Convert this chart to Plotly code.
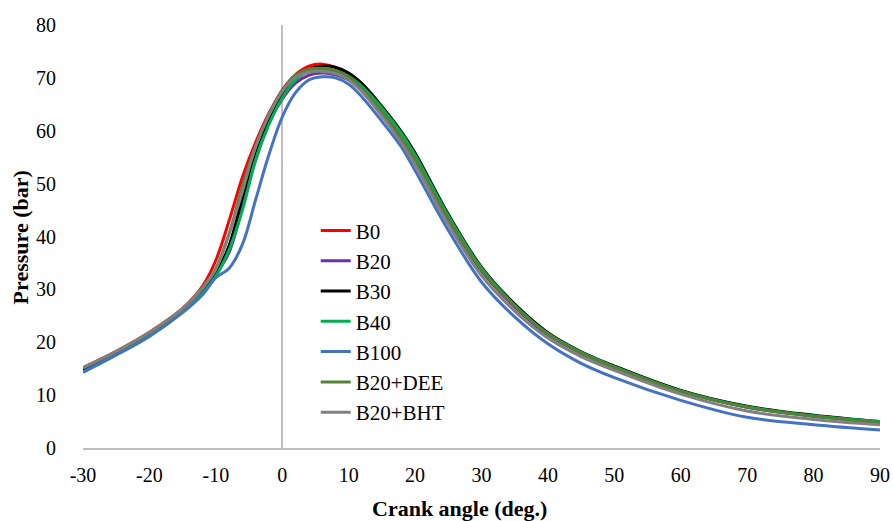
import plotly.graph_objects as go

crank_angle = [-30, -25, -20, -15, -12, -10, -8, -6, -4, -2, 0, 2, 4, 6, 8, 10, 12, 15, 18, 20, 25, 30, 35, 40, 45, 50, 60, 70, 80, 90]

b0 = [15.2, 18.3, 21.9, 26.4, 30.6, 35.5, 43.0, 51.2, 57.8, 63.3, 67.7, 70.6, 72.2, 72.6, 72.0, 70.5, 68.0, 63.4, 58.3, 54.5, 43.3, 33.6, 26.8, 21.6, 18.0, 15.3, 10.8, 7.8, 6.1, 4.9]
b20 = [14.6, 17.8, 21.4, 26.0, 29.5, 32.8, 37.0, 45.5, 54.5, 61.5, 66.0, 69.0, 70.5, 70.9, 70.6, 69.6, 67.6, 63.4, 58.5, 54.6, 43.2, 33.5, 26.7, 21.4, 17.9, 15.2, 10.7, 7.7, 6.0, 4.9]
b30 = [14.7, 17.9, 21.5, 26.1, 29.7, 33.0, 38.3, 47.3, 56.3, 62.5, 67.0, 70.0, 71.6, 72.2, 72.0, 70.9, 68.9, 64.6, 59.7, 55.8, 44.2, 34.2, 27.2, 21.8, 18.2, 15.5, 10.9, 7.9, 6.2, 5.0]
b40 = [14.3, 17.6, 21.2, 25.8, 29.3, 32.5, 37.5, 45.0, 54.5, 61.2, 66.2, 69.6, 71.3, 71.6, 71.3, 70.3, 68.4, 64.3, 59.4, 55.4, 43.9, 34.0, 27.0, 21.6, 18.1, 15.4, 10.8, 7.8, 6.1, 5.0]
b100 = [14.4, 17.6, 21.1, 25.6, 29.0, 32.2, 34.0, 38.5, 47.0, 55.5, 62.6, 67.2, 69.6, 70.2, 70.0, 68.8, 66.4, 61.8, 56.8, 52.5, 41.2, 31.4, 24.8, 19.7, 16.0, 13.3, 9.0, 5.8, 4.4, 3.4]
b20_dee = [15.1, 18.2, 21.8, 26.3, 30.2, 34.0, 40.5, 49.5, 57.0, 63.0, 67.6, 70.5, 71.7, 71.8, 71.4, 70.2, 68.0, 63.6, 58.6, 54.6, 43.4, 33.7, 26.9, 21.6, 18.0, 15.3, 10.7, 7.7, 6.0, 4.8]
b20_bht = [15.2, 18.3, 21.9, 26.4, 30.3, 33.8, 40.5, 48.5, 57.0, 63.0, 67.4, 70.1, 71.1, 71.2, 70.8, 69.6, 67.4, 62.8, 57.6, 53.6, 42.3, 32.6, 25.9, 20.8, 17.3, 14.7, 10.2, 7.0, 5.4, 4.4]

series_names = ["B0", "B20", "B30", "B40", "B100", "B20+DEE", "B20+BHT"]
series_values = [b0, b20, b30, b40, b100, b20_dee, b20_bht]
series_colors = ["#FF0000", "#7030A0", "#000000", "#00B050", "#4472C4", "#548235", "#808080"]

x_ticks = [-30, -20, -10, 0, 10, 20, 30, 40, 50, 60, 70, 80, 90]
y_ticks = [0, 10, 20, 30, 40, 50, 60, 70, 80]

FONT = "Liberation Serif, DejaVu Serif, serif"

fig = go.Figure()
for name, vals, col in zip(series_names, series_values, series_colors):
    fig.add_trace(go.Scatter(
        x=crank_angle, y=vals, name=name, mode="lines",
        line=dict(color=col, width=3, shape="spline", smoothing=1.0),
    ))

fig.update_layout(
    width=893, height=521,
    margin=dict(l=83, r=13, t=25, b=73),
    paper_bgcolor="white", plot_bgcolor="white",
    font=dict(family=FONT, size=20, color="#000000"),
    showlegend=True,
    legend=dict(
        x=0.292, y=0.562, xanchor="left", yanchor="top",
        bgcolor="rgba(0,0,0,0)", borderwidth=0,
        font=dict(family=FONT, size=21, color="#000000"),
        tracegroupgap=0,
    ),
    xaxis=dict(
        range=[-30, 90], tickvals=x_ticks, ticktext=[str(v) for v in x_ticks],
        showgrid=False, showline=True, linecolor="#BFBFBF", linewidth=2,
        zeroline=True, zerolinecolor="#BFBFBF", zerolinewidth=2,
        ticks="outside", ticklen=8, tickcolor="rgba(0,0,0,0)",
        tickfont=dict(family=FONT, size=20), automargin=False,
        ticklabeloverflow="allow",
    ),
    yaxis=dict(
        range=[0, 80], tickvals=y_ticks, ticktext=[str(v) for v in y_ticks],
        showgrid=False, showline=False, zeroline=False,
        ticks="outside", ticklen=22, tickcolor="rgba(0,0,0,0)",
        tickfont=dict(family=FONT, size=20), automargin=False,
    ),
    annotations=[
        dict(text="<b>Crank angle (deg.)</b>", xref="paper", yref="paper",
             x=0.473, y=-0.142, xanchor="center", yanchor="middle",
             showarrow=False, font=dict(family=FONT, size=22)),
        dict(text="<b>Pressure (bar)</b>", xref="paper", yref="paper",
             x=-0.079, y=0.498, xanchor="center", yanchor="middle", textangle=-90,
             showarrow=False, font=dict(family=FONT, size=22)),
    ],
)

fig.write_html(
    "out.html",
    config={"displayModeBar": False},
    post_script="document.body.style.margin='0';document.body.style.overflow='hidden';",
)
